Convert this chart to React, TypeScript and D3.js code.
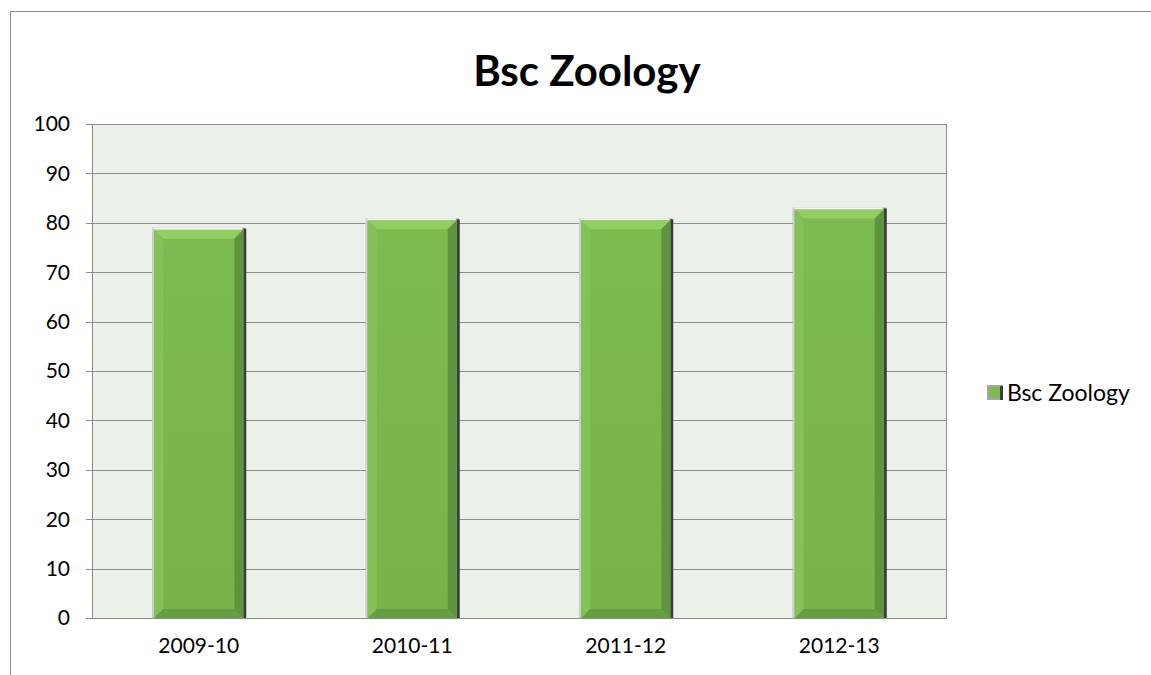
import React from "react";
import * as d3 from "d3";

const title = "Bsc Zoology";
const years = ["2009-10", "2010-11", "2011-12", "2012-13"];
const scores = [78.6, 80.5, 80.5, 82.7];
const yTicks = [0, 10, 20, 30, 40, 50, 60, 70, 80, 90, 100];

const W = 1151;
const H = 675;
const plot = { left: 92, top: 124, right: 946, bottom: 618 };
const font = "Lato, 'Open Sans', sans-serif";

const App = () => {
  const x = d3.scaleBand<string>()
    .domain(years)
    .range([plot.left, plot.right])
    .paddingInner(0.583)
    .paddingOuter(0.2915);

  const y = d3.scaleLinear()
    .domain([0, 100])
    .range([plot.bottom, plot.top]);

  const bw = x.bandwidth();
  const bev = 9;

  return (
    <svg width={W} height={H} style={{ position: "absolute", left: 0, top: 0 }}>
      <defs>
        <linearGradient id="face" x1="0" y1="0" x2="0" y2="1">
          <stop offset="0" stopColor="#7dba50" />
          <stop offset="1" stopColor="#77b349" />
        </linearGradient>
      </defs>
      <rect x={0} y={0} width={W} height={H} fill="#fff" />
      <rect x={10.5} y={11.5} width={W + 20} height={H + 20} fill="none" stroke="#8c8c8c" />

      <text x={587} y={86} textAnchor="middle" fontFamily={font} fontWeight="bold" fontSize={42} fill="#000">
        {title}
      </text>

      <rect x={plot.left + 0.5} y={plot.top + 0.5} width={plot.right - plot.left} height={plot.bottom - plot.top}
        fill="#ebf0e8" stroke="#8c8c8c" />

      {yTicks.map(t => (
        <g key={t}>
          {t > 0 && t < 100 && (
            <line x1={plot.left} x2={plot.right} y1={Math.round(y(t)) + 0.5} y2={Math.round(y(t)) + 0.5}
              stroke="#8c8c8c" strokeWidth={1} />
          )}
          <line x1={plot.left - 6} x2={plot.left} y1={Math.round(y(t)) + 0.5} y2={Math.round(y(t)) + 0.5}
            stroke="#8c8c8c" />
          <text x={plot.left - 22} y={y(t)} dy="0.35em" textAnchor="end" fontFamily={font} fontSize={21} fill="#000">
            {t}
          </text>
        </g>
      ))}

      {years.map((yr, i) => {
        const x0 = x(yr)!;
        const x1 = x0 + bw;
        const y0 = y(scores[i]);
        const y1 = y(0);
        return (
          <g key={yr}>
            <rect x={x0 - 2} y={y0 - 2} width={bw + 4} height={y1 - y0 + 2} fill="#a6a6a6" />
            <rect x={x0 - 2} y={y0 - 2} width={bw + 1} height={3} fill="#ffffff" />
            <rect x={x0 - 2} y={y0 - 2} width={2} height={y1 - y0 + 2} fill="#cfcfcf" />
            <rect x={x1} y={y0 - 1} width={3} height={y1 - y0 + 1} fill="#3c3c3c" />
            <rect x={x0} y={y0} width={bw} height={y1 - y0} fill="url(#face)" />
            <polygon points={`${x0},${y0} ${x1},${y0} ${x1 - bev},${y0 + bev} ${x0 + bev},${y0 + bev}`} fill="#92cf63" />
            <polygon points={`${x0},${y0} ${x0 + bev},${y0 + bev} ${x0 + bev},${y1 - bev} ${x0},${y1}`} fill="#83c257" />
            <polygon points={`${x1},${y0} ${x1},${y1} ${x1 - bev},${y1 - bev} ${x1 - bev},${y0 + bev}`} fill="#5e9440" />
            <polygon points={`${x0},${y1} ${x1},${y1} ${x1 - bev},${y1 - bev} ${x0 + bev},${y1 - bev}`} fill="#659f42" />
            <text x={x0 + bw / 2} y={646} dy="0.35em" textAnchor="middle" fontFamily={font} fontSize={21} fill="#000">
              {yr}
            </text>
          </g>
        );
      })}

      <g transform="translate(987,385)">
        <rect x={0} y={0} width={16} height={15} fill="#a6a6a6" />
        <rect x={2} y={2} width={11} height={11} fill="#7cbb4d" />
        <rect x={13} y={1} width={3} height={14} fill="#3c3c3c" />
        <text x={20} y={8} dy="0.35em" fontFamily={font} fontSize={23} fill="#000">{title}</text>
      </g>
    </svg>
  );
};

export default App;
